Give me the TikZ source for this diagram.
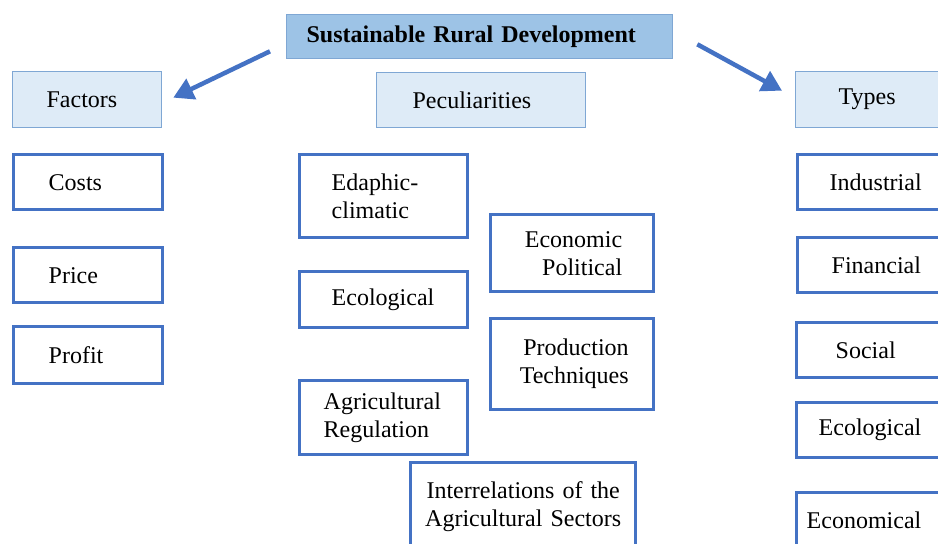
\documentclass[tikz,border=0pt]{standalone}
\usepackage{fontspec}
\setmainfont{Liberation Serif}
\usetikzlibrary{arrows.meta}
\definecolor{titlefill}{HTML}{9DC3E6}
\definecolor{headfill}{HTML}{DEEBF7}
\definecolor{headline}{HTML}{7FA7D4}
\definecolor{itemblue}{HTML}{4472C4}
\tikzset{
  headbox/.style={draw=headline, fill=headfill, line width=1.3pt, anchor=north west, inner sep=0pt, align=left, font=\fontsize{24}{28}\selectfont},
  itembox/.style={draw=itemblue, line width=3.4pt, anchor=north west, inner sep=0pt, font=\fontsize{24}{28}\selectfont},
  bigarrow/.style={itemblue, line width=4.5pt, -{Triangle[length=20pt,width=22pt]}}
}
\begin{document}
\begin{tikzpicture}[x=1pt,y=-1pt]
\useasboundingbox (0,0) rectangle (938,544);
\clip (0,0) rectangle (938,544);

% headings
\node[headbox, fill=titlefill, minimum width=386, minimum height=44, text width=346, font=\fontsize{24}{28}\selectfont\bfseries] (title) at (286,14) {Sustainable Rural Development};
\node[headbox, minimum width=149, minimum height=56, text width=81] (factors) at (12,71) {Factors};
\node[headbox, minimum width=209, minimum height=55, text width=137] (peculiar) at (376,72) {Peculiarities};
\node[headbox, minimum width=160, minimum height=56, text width=74] (types) at (795,71) {Types};

\draw[bigarrow] ([xshift=-16,yshift=8]title.south west) -- ([xshift=11,yshift=2]factors.east);
\draw[bigarrow] ([xshift=24,yshift=15]title.south east) -- ([xshift=-13,yshift=9]types.west);

% factors
\node[itembox, minimum width=149, minimum height=55, text width=79, align=left] (costs) at (12,153) {Costs};
\node[itembox, minimum width=149, minimum height=55, text width=79, align=left] (price) at (12,246) {Price};
\node[itembox, minimum width=149, minimum height=57, text width=79, align=left] (profit) at (12,325) {Profit};

% peculiarities
\node[itembox, minimum width=168, minimum height=83, text width=104, align=left] (edaphic) at (298,153) {Edaphic-\\climatic};
\node[itembox, minimum width=163, minimum height=77, text width=100, align=right] (econpol) at (489,213) {Economic\\Political};
\node[itembox, minimum width=168, minimum height=56, text width=104, align=left] (ecomid) at (298,270) {Ecological};
\node[itembox, minimum width=163, minimum height=91, text width=113, align=right] (prodtech) at (489,317) {Production\\Techniques};
\node[itembox, minimum width=168, minimum height=74, text width=120, align=left] (agreg) at (298,379) {Agricultural\\Regulation};
\node[itembox, minimum width=225, minimum height=87, text width=200, align=center] (interrel) at (409,461) {Interrelations of the\\Agricultural Sectors};

% types
\node[itembox, minimum width=160, minimum height=55, text width=96, align=left] (industrial) at (796,153) {Industrial};
\node[itembox, minimum width=160, minimum height=55, text width=92, align=left] (financial) at (796,236) {Financial};
\node[itembox, minimum width=160, minimum height=55, text width=82, align=left] (social) at (795,321) {Social};
\node[itembox, minimum width=160, minimum height=55, text width=116, align=left] (ecoright) at (795,401) {Ecological};
\node[itembox, minimum width=160, minimum height=55, text width=140, align=left] (economical) at (795,491) {Economical};

\end{tikzpicture}
\end{document}
